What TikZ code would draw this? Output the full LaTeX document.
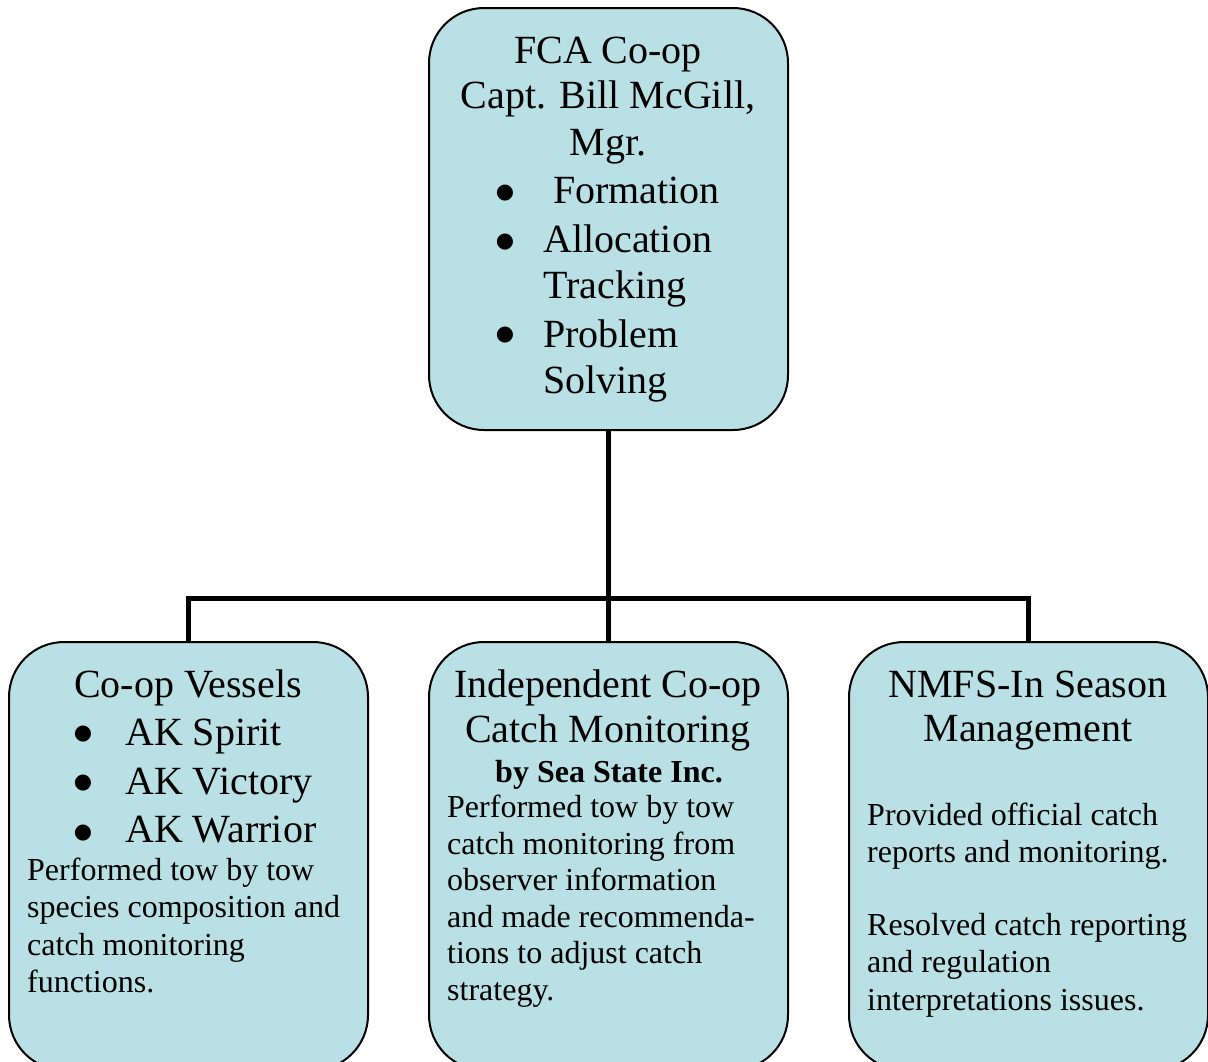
\documentclass[tikz,border=0pt]{standalone}
\usepackage{fontspec}
\setmainfont{Liberation Serif}
\newfontfamily\bulletfont{DejaVu Sans}
\definecolor{boxfill}{RGB}{185,224,228}
\begin{document}
\begin{tikzpicture}[x=1pt,y=-1pt,
  box/.style={draw=black, line width=2pt, fill=boxfill, rounded corners=55pt, anchor=north west, inner sep=0pt, outer sep=0pt},
  big/.style={font=\fontsize{40}{46}\selectfont, inner sep=0pt},
  small/.style={font=\fontsize{32}{37}\selectfont, inner sep=0pt, anchor=base west},
  bul/.style={font=\bulletfont\fontsize{21}{23}\selectfont, inner sep=0pt, anchor=center},
  conn/.style={line width=5pt}]
\useasboundingbox (0,0) rectangle (1208,1061);
\clip (0,0) rectangle (1208,1061);
% boxes
\node[box, minimum width=359pt, minimum height=422pt] (top) at (429,8) {};
\node[box, minimum width=359pt, minimum height=428pt] (left) at (9,642) {};
\node[box, minimum width=359pt, minimum height=428pt] (mid) at (429,642) {};
\node[box, minimum width=359pt, minimum height=428pt] (right) at (849,642) {};
% connectors
\coordinate (bar) at (608,598);
\draw[conn] (top.south) -- (mid.north);
\draw[conn] (left.north) |- (bar) -| (right.north);
% top box text
\node[big, anchor=base] (t1) at (608,63) {FCA Co-op};
\node[big, anchor=base] (t2) at (608,108) {Capt. Bill McGill,};
\node[big, anchor=base] (t3) at (608,155) {Mgr.};
\node[bul] (tb1) at (505,193) {●};
\node[big, anchor=base west] (t4) at (553,203) {Formation};
\node[bul] (tb2) at (505,242) {●};
\node[big, anchor=base west] (t5) at (543,252) {Allocation};
\node[big, anchor=base west] (t6) at (543,298) {Tracking};
\node[bul] (tb3) at (505,335) {●};
\node[big, anchor=base west] (t7) at (543,347) {Problem};
\node[big, anchor=base west] (t8) at (543,393) {Solving};
% left box text
\node[big, anchor=base] (l1) at (188,697) {Co-op Vessels};
\node[bul] (lb1) at (83,734) {●};
\node[big, anchor=base west] (l2) at (125,745) {AK Spirit};
\node[bul] (lb2) at (83,783) {●};
\node[big, anchor=base west] (l3) at (125,794) {AK Victory};
\node[bul] (lb3) at (83,833) {●};
\node[big, anchor=base west] (l4) at (125,842) {AK Warrior};
\node[small] (l5) at (27,880) {Performed tow by tow};
\node[small] (l6) at (27,917) {species composition and};
\node[small] (l7) at (27,955) {catch monitoring};
\node[small] (l8) at (27,992) {functions.};
% middle box text
\node[big, anchor=base] (m1) at (608,697) {Independent Co-op};
\node[big, anchor=base] (m2) at (608,742) {Catch Monitoring};
\node[small, anchor=base, font=\fontsize{32}{37}\selectfont\bfseries] (m3) at (609,782) {by Sea State Inc.};
\node[small] (m4) at (447,817) {Performed tow by tow};
\node[small] (m5) at (447,854) {catch monitoring from};
\node[small] (m6) at (447,890) {observer information};
\node[small] (m7) at (447,927) {and made recommenda-};
\node[small] (m8) at (447,963) {tions to adjust catch};
\node[small] (m9) at (447,1000) {strategy.};
% right box text
\node[big, anchor=base] (r1) at (1028,697) {NMFS-In Season};
\node[big, anchor=base] (r2) at (1028,741) {Management};
\node[small] (r3) at (867,825) {Provided official catch};
\node[small] (r4) at (867,862) {reports and monitoring.};
\node[small] (r5) at (867,935) {Resolved catch reporting};
\node[small] (r6) at (867,972) {and regulation};
\node[small] (r7) at (867,1010) {interpretations issues.};
\end{tikzpicture}
\end{document}
